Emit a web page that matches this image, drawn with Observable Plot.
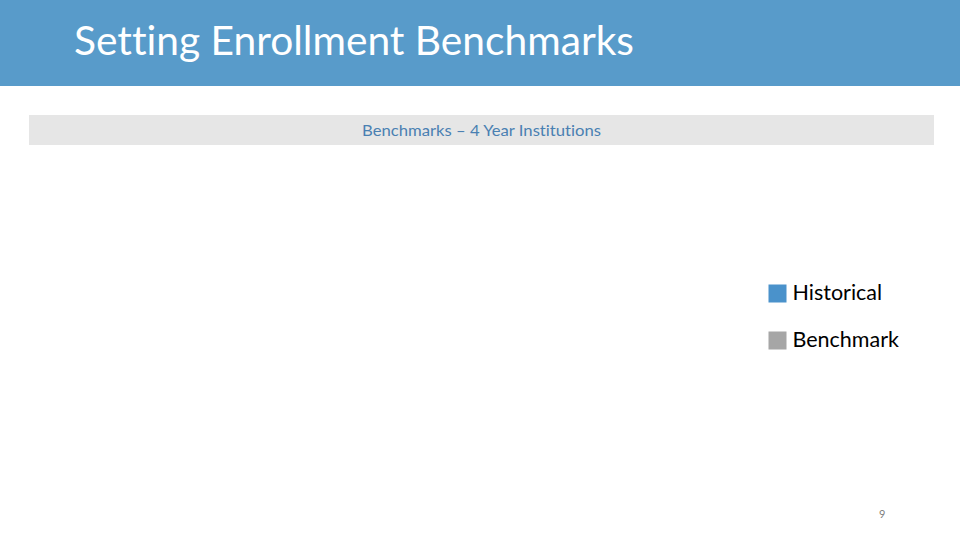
<!DOCTYPE html>
<html>
<head>
<meta charset="utf-8">
<script src="https://cdn.jsdelivr.net/npm/d3@7"></script>
<script src="https://cdn.jsdelivr.net/npm/@observablehq/plot@0.6"></script>
<style>
  html, body { margin: 0; padding: 0; background: #fff; }
  #slide { position: relative; width: 960px; height: 540px; overflow: hidden; background: #fff; font-family: Lato, "Open Sans", sans-serif; font-variant-ligatures: none; }
  #header { position: absolute; left: 0; top: 0; width: 960px; height: 86px; background: #589BCA; }
  #title { position: absolute; left: 74px; top: 16px; font-size: 40px; color: #fff; white-space: nowrap; transform-origin: left top; }
  #bar { position: absolute; left: 29px; top: 115px; width: 905px; height: 30px; background: #E6E6E6; }
  #subtitle { position: absolute; left: 333px; top: 6px; font-size: 15px; color: #4A80B2; white-space: nowrap; transform-origin: left top; }
  #chart { position: absolute; left: 0; top: 150px; }
  #page { position: absolute; left: 879px; top: 507px; font-size: 11px; color: #808080; }
  svg text { font-variant-ligatures: none; }
</style>
</head>
<body>
<div id="slide">
  <div id="header"><div id="title">Setting Enrollment Benchmarks</div></div>
  <div id="bar"><div id="subtitle">Benchmarks – 4 Year Institutions</div></div>
  <div id="chart"></div>
  <div id="page">9</div>
</div>
<script>
const series = ["Historical", "Benchmark"];
const seriesColors = ["#4A92CB", "#A6A6A6"];

const chart = Plot.plot({
  width: 960,
  height: 390,
  margin: 0,
  style: { background: "transparent", fontFamily: "Lato, 'Open Sans', sans-serif" },
  y: { type: "point", domain: series, range: [143, 190], padding: 0, axis: null },
  color: { domain: series, range: seriesColors },
  marks: [
    Plot.dot(series, { y: d => d, frameAnchor: "left", dx: 777, symbol: "square", r: 10.16, fill: d => d, stroke: "none" }),
    Plot.text(series, { y: d => d, text: d => d, frameAnchor: "left", dx: 792, textAnchor: "start", fontSize: 21.5, fill: "#000" })
  ]
});
document.getElementById("chart").appendChild(chart);

// fit text widths to reference
function fit(id, target) {
  const el = document.getElementById(id);
  const w = el.getBoundingClientRect().width;
  el.style.transform = `scaleX(${target / w})`;
}
fit("title", 560);
fit("subtitle", 239);
</script>
</body>
</html>
